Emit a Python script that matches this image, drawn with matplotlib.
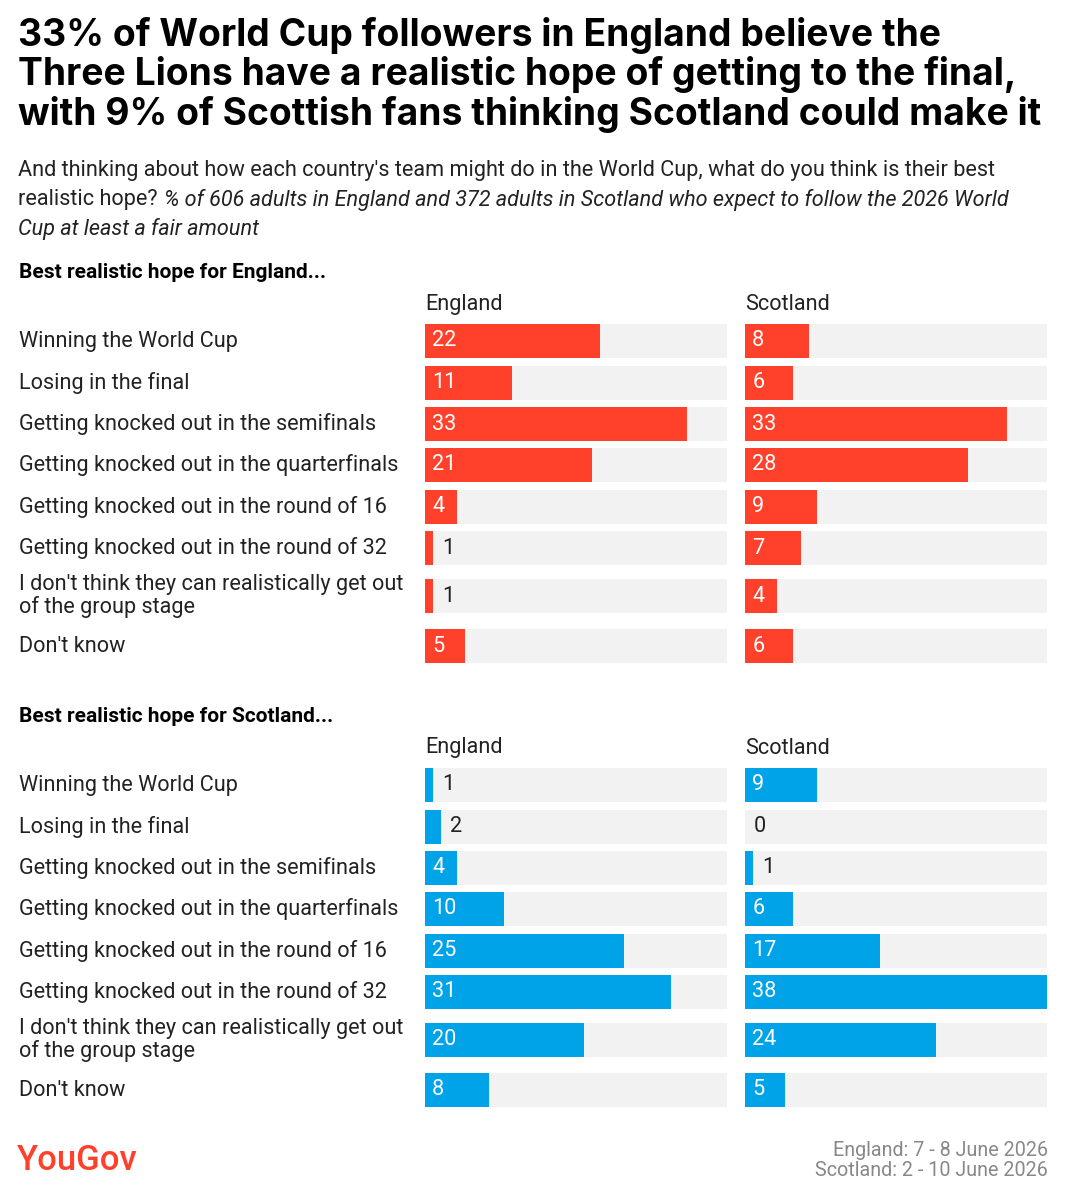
import matplotlib.pyplot as plt

plt.rcParams['font.family'] = ['Roboto', 'DejaVu Sans']

categories = ["Winning the World Cup", "Losing in the final",
              "Getting knocked out in the semifinals",
              "Getting knocked out in the quarterfinals",
              "Getting knocked out in the round of 16",
              "Getting knocked out in the round of 32",
              "I don't think they can realistically get out\nof the group stage",
              "Don't know"]
eng_hope_england = [22, 11, 33, 21, 4, 1, 1, 5]
eng_hope_scotland = [8, 6, 33, 28, 9, 7, 4, 6]
sco_hope_england = [1, 2, 4, 10, 25, 31, 20, 8]
sco_hope_scotland = [9, 0, 1, 6, 17, 38, 24, 5]

RED = "#ff412c"
BLUE = "#00a3e8"
GREY = "#f2f2f2"
DARK = "#222222"
W, H = 1066, 1200
XMAX = 38
FS = 15.6

fig = plt.figure(figsize=(W / 100, H / 100), dpi=100)
fig.patch.set_facecolor("white")

def px(x, y):
    return x / W, 1 - y / H

def txt(x, y, s, **kw):
    return fig.text(*px(x, y), s, **kw)

txt(18, 17, "33% of World Cup followers in England believe the\n"
    "Three Lions have a realistic hope of getting to the final,\n"
    "with 9% of Scottish fans thinking Scotland could make it",
    fontsize=26.8, fontweight="bold", va="top", color="black",
    linespacing=1.08, fontfamily=["Inter", "DejaVu Sans"])
txt(18, 160, "And thinking about how each country's team might do in the World Cup, what do you think is their best",
    fontsize=FS, va="top", color=DARK)
t = txt(18, 189, "realistic hope?", fontsize=FS, va="top", color=DARK)
r = fig.canvas.get_renderer()
x_end = t.get_window_extent(r).x1 + 6
txt(x_end, 189, "% of 606 adults in England and 372 adults in Scotland who expect to follow the 2026 World",
    fontsize=FS, va="top", color=DARK, style="italic")
txt(18, 218, "Cup at least a fair amount", fontsize=FS, va="top", color=DARK, style="italic")

row_y = [341, 383, 424, 465, 507, 548, 596, 646]
bar_h = 34

def panel(top, title, values_e, values_s, color):
    txt(19, top, title, fontsize=15, fontweight="bold", va="center", color="black")
    txt(425, top + 31, "England", fontsize=FS, va="center", color=DARK)
    txt(745, top + 31, "Scotland", fontsize=FS, va="center", color=DARK)
    offs = [r - 341 + top + 68 for r in row_y]
    for lab, yc in zip(categories, offs):
        txt(19, yc, lab, fontsize=FS, va="center", color=DARK, linespacing=1.1)
    for x0, vals in ((425, values_e), (745, values_s)):
        ax = fig.add_axes([x0 / W, 1 - (top + 700) / H, 302 / W, 700 / H])
        ax.set_xlim(0, XMAX)
        ax.set_ylim(top + 700, top)
        ax.axis("off")
        ax.barh(offs, [XMAX] * len(vals), height=bar_h, color=GREY, left=0)
        ax.barh(offs, vals, height=bar_h, color=color)
        for v, yc in zip(vals, offs):
            if v >= 3:
                ax.text(0.9, yc, str(v), color="white", fontsize=FS, va="center")
            else:
                ax.text(v + 1.1, yc, str(v), color=DARK, fontsize=FS, va="center")

panel(273, "Best realistic hope for England...", eng_hope_england, eng_hope_scotland, RED)
panel(717, "Best realistic hope for Scotland...", sco_hope_england, sco_hope_scotland, BLUE)

txt(17, 1160, "YouGov", fontsize=25, color=RED, va="center", fontweight="medium")
txt(1048, 1150, "England: 7 - 8 June 2026", fontsize=14.2, color="#888888", ha="right", va="center")
txt(1048, 1171, "Scotland: 2 - 10 June 2026", fontsize=14.2, color="#888888", ha="right", va="center")

fig.savefig("out.png", dpi=100)
